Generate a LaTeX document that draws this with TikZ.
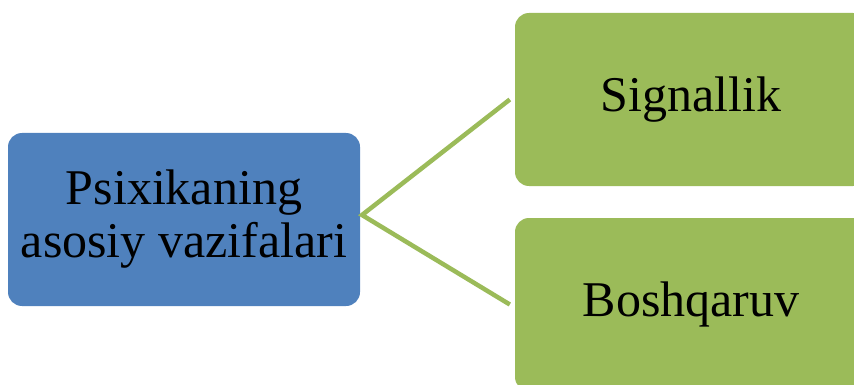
\documentclass[tikz,border=0pt]{standalone}
\usepackage{fontspec}
\setmainfont{Liberation Serif}
\definecolor{boxblue}{HTML}{4F81BD}
\definecolor{boxgreen}{HTML}{9BBB59}
\begin{document}
\begin{tikzpicture}[x=1pt, y=-1pt,
  mainbox/.style={fill=boxblue, rounded corners=14pt, minimum width=352pt, minimum height=173pt, inner sep=0pt, align=center, font=\fontsize{50}{53}\selectfont},
  leafbox/.style={fill=boxgreen, rounded corners=14pt, minimum width=352pt, minimum height=173pt, inner sep=0pt, font=\fontsize{50}{53}\selectfont},
  link/.style={draw=boxgreen, line width=4.5pt}]

\path [use as bounding box, clip] (0,0) rectangle (854,385);
\node [mainbox] (main) at (184,219.5) {Psixikaning\\asosiy vazifalari};
\node [leafbox] (signal) at (691,99.5) {Signallik};
\node [leafbox] (boshq) at (691,304.5) {Boshqaruv};
\coordinate (fork) at (362,215);
\draw [link] ([xshift=-5pt]signal.west) -- (fork) -- ([xshift=-5pt]boshq.west);
\end{tikzpicture}
\end{document}
